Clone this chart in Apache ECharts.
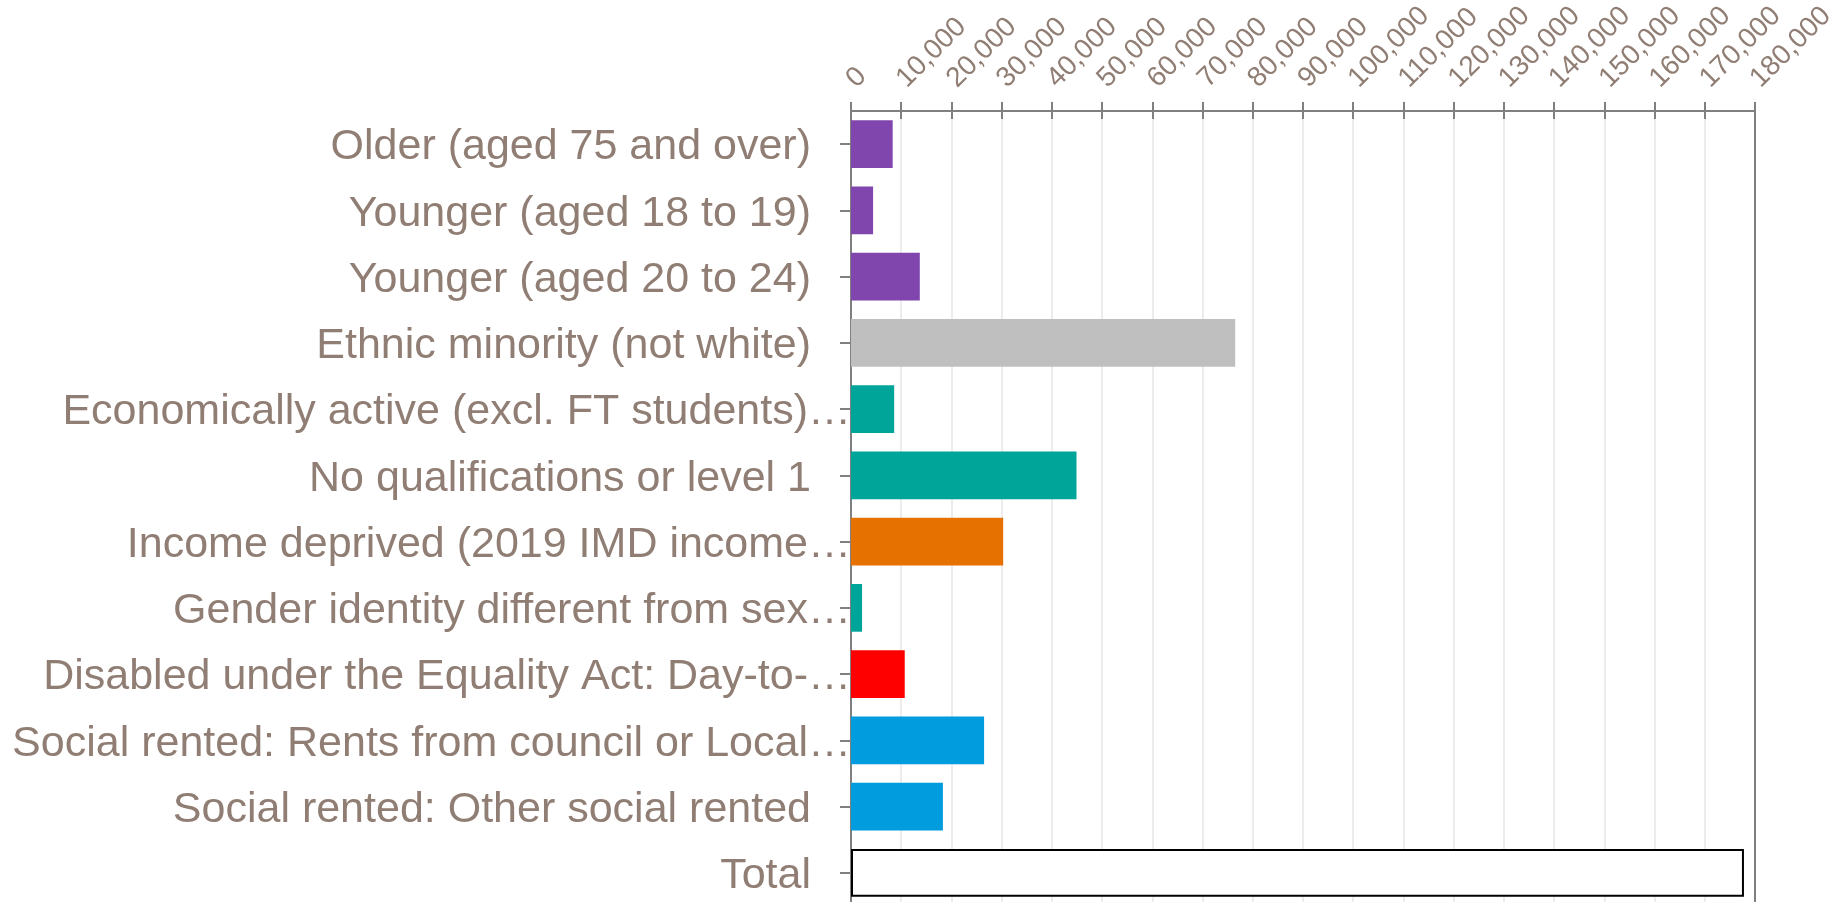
<!DOCTYPE html>
<html>
<head>
<meta charset="utf-8">
<script src="https://cdn.jsdelivr.net/npm/echarts@6/dist/echarts.min.js"></script>
<style>
  html, body { margin: 0; padding: 0; background: #fff; }
  #container { width: 1829px; height: 902px; }
</style>
</head>
<body>
<div id="container"></div>
<script>
var categories = [
  'Older (aged 75 and over)',
  'Younger (aged 18 to 19)',
  'Younger (aged 20 to 24)',
  'Ethnic minority (not white)',
  'Economically active (excl. FT students)…',
  'No qualifications or level 1',
  'Income deprived (2019 IMD income…',
  'Gender identity different from sex…',
  'Disabled under the Equality Act: Day-to-…',
  'Social rented: Rents from council or Local…',
  'Social rented: Other social rented',
  'Total'
];
var values = [8300, 4400, 13700, 76500, 8600, 44900, 30300, 2200, 10700, 26500, 18300, 177800];
var axisMin = 0;
var axisMax = 180000;
var axisStep = 10000;

// one colour per bar, same order as categories
var barColors = ['#8046ad', '#8046ad', '#8046ad', '#bfbfbf', '#00a59a', '#00a59a',
  '#e67000', '#00a59a', '#ff0000', '#009cde', '#009cde', '#ffffff'];

var labelColor = '#907e74';
var lineColor = '#808080';
var font = '"Liberation Sans", Arial, sans-serif';

var dom = document.getElementById('container');
var myChart = echarts.init(dom, null, { renderer: 'canvas' });

var barData = values.map(function (v, i) {
  var item = { value: v, itemStyle: { color: barColors[i] } };
  if (categories[i] === 'Total') {
    item.itemStyle.borderColor = '#000';
    item.itemStyle.borderWidth = 2;
  }
  return item;
});

var option = {
  backgroundColor: '#fff',
  animation: false,
  grid: {
    left: 851, top: 111, right: 74, height: 795,
    containLabel: false,
    outerBoundsMode: 'none'
  },
  xAxis: [{
    type: 'value',
    position: 'top',
    min: axisMin, max: axisMax, interval: axisStep,
    axisLine: { show: true, lineStyle: { color: lineColor, width: 2 } },
    axisTick: { show: true, length: 9, lineStyle: { color: lineColor, width: 2 } },
    splitLine: { show: true, lineStyle: { color: '#ececec', width: 2 } },
    axisLabel: {
      rotate: -45,
      margin: 28,
      color: labelColor,
      fontFamily: font,
      fontSize: 28,
      formatter: function (v) { return v.toLocaleString('en-GB'); }
    }
  }, {
    type: 'value',
    position: 'top',
    min: axisMin, max: axisMax, interval: axisStep,
    z: 5,
    axisLine: { show: false },
    axisTick: { show: true, inside: true, length: 8, lineStyle: { color: lineColor, width: 2 } },
    splitLine: { show: false },
    axisLabel: { show: false }
  }],
  yAxis: [{
    type: 'category',
    inverse: true,
    data: categories,
    axisLine: { show: true, lineStyle: { color: lineColor, width: 2 } },
    axisTick: { show: true, alignWithLabel: true, length: 11, lineStyle: { color: lineColor, width: 2 } },
    axisLabel: {
      margin: 0,
      padding: [7, 0, 0, 0],
      color: labelColor,
      fontFamily: font,
      fontSize: 43,
      formatter: function (v) {
        // cut labels run up to the axis, full ones keep a gap
        return v.slice(-1) === '…' ? '{t|' + v + '}' : '{t|' + v + '}{g|}';
      },
      rich: {
        t: { color: labelColor, fontFamily: font, fontSize: 43 },
        g: { width: 40 }
      }
    }
  }, {
    type: 'category',
    inverse: true,
    data: categories,
    z: 5,
    axisLine: { show: false },
    axisTick: { show: true, inside: true, alignWithLabel: true, length: 10, lineStyle: { color: lineColor, width: 2 } },
    axisLabel: { show: false }
  }, {
    type: 'category',
    inverse: true,
    position: 'right',
    data: categories,
    z: 5,
    axisLine: { show: true, lineStyle: { color: lineColor, width: 2 } },
    axisTick: { show: false },
    axisLabel: { show: false }
  }],
  series: [{
    type: 'bar',
    xAxisIndex: 0,
    yAxisIndex: 0,
    barCategoryGap: '28%',
    data: barData
  }]
};

myChart.setOption(option);
window.addEventListener('resize', myChart.resize);
</script>
</body>
</html>
